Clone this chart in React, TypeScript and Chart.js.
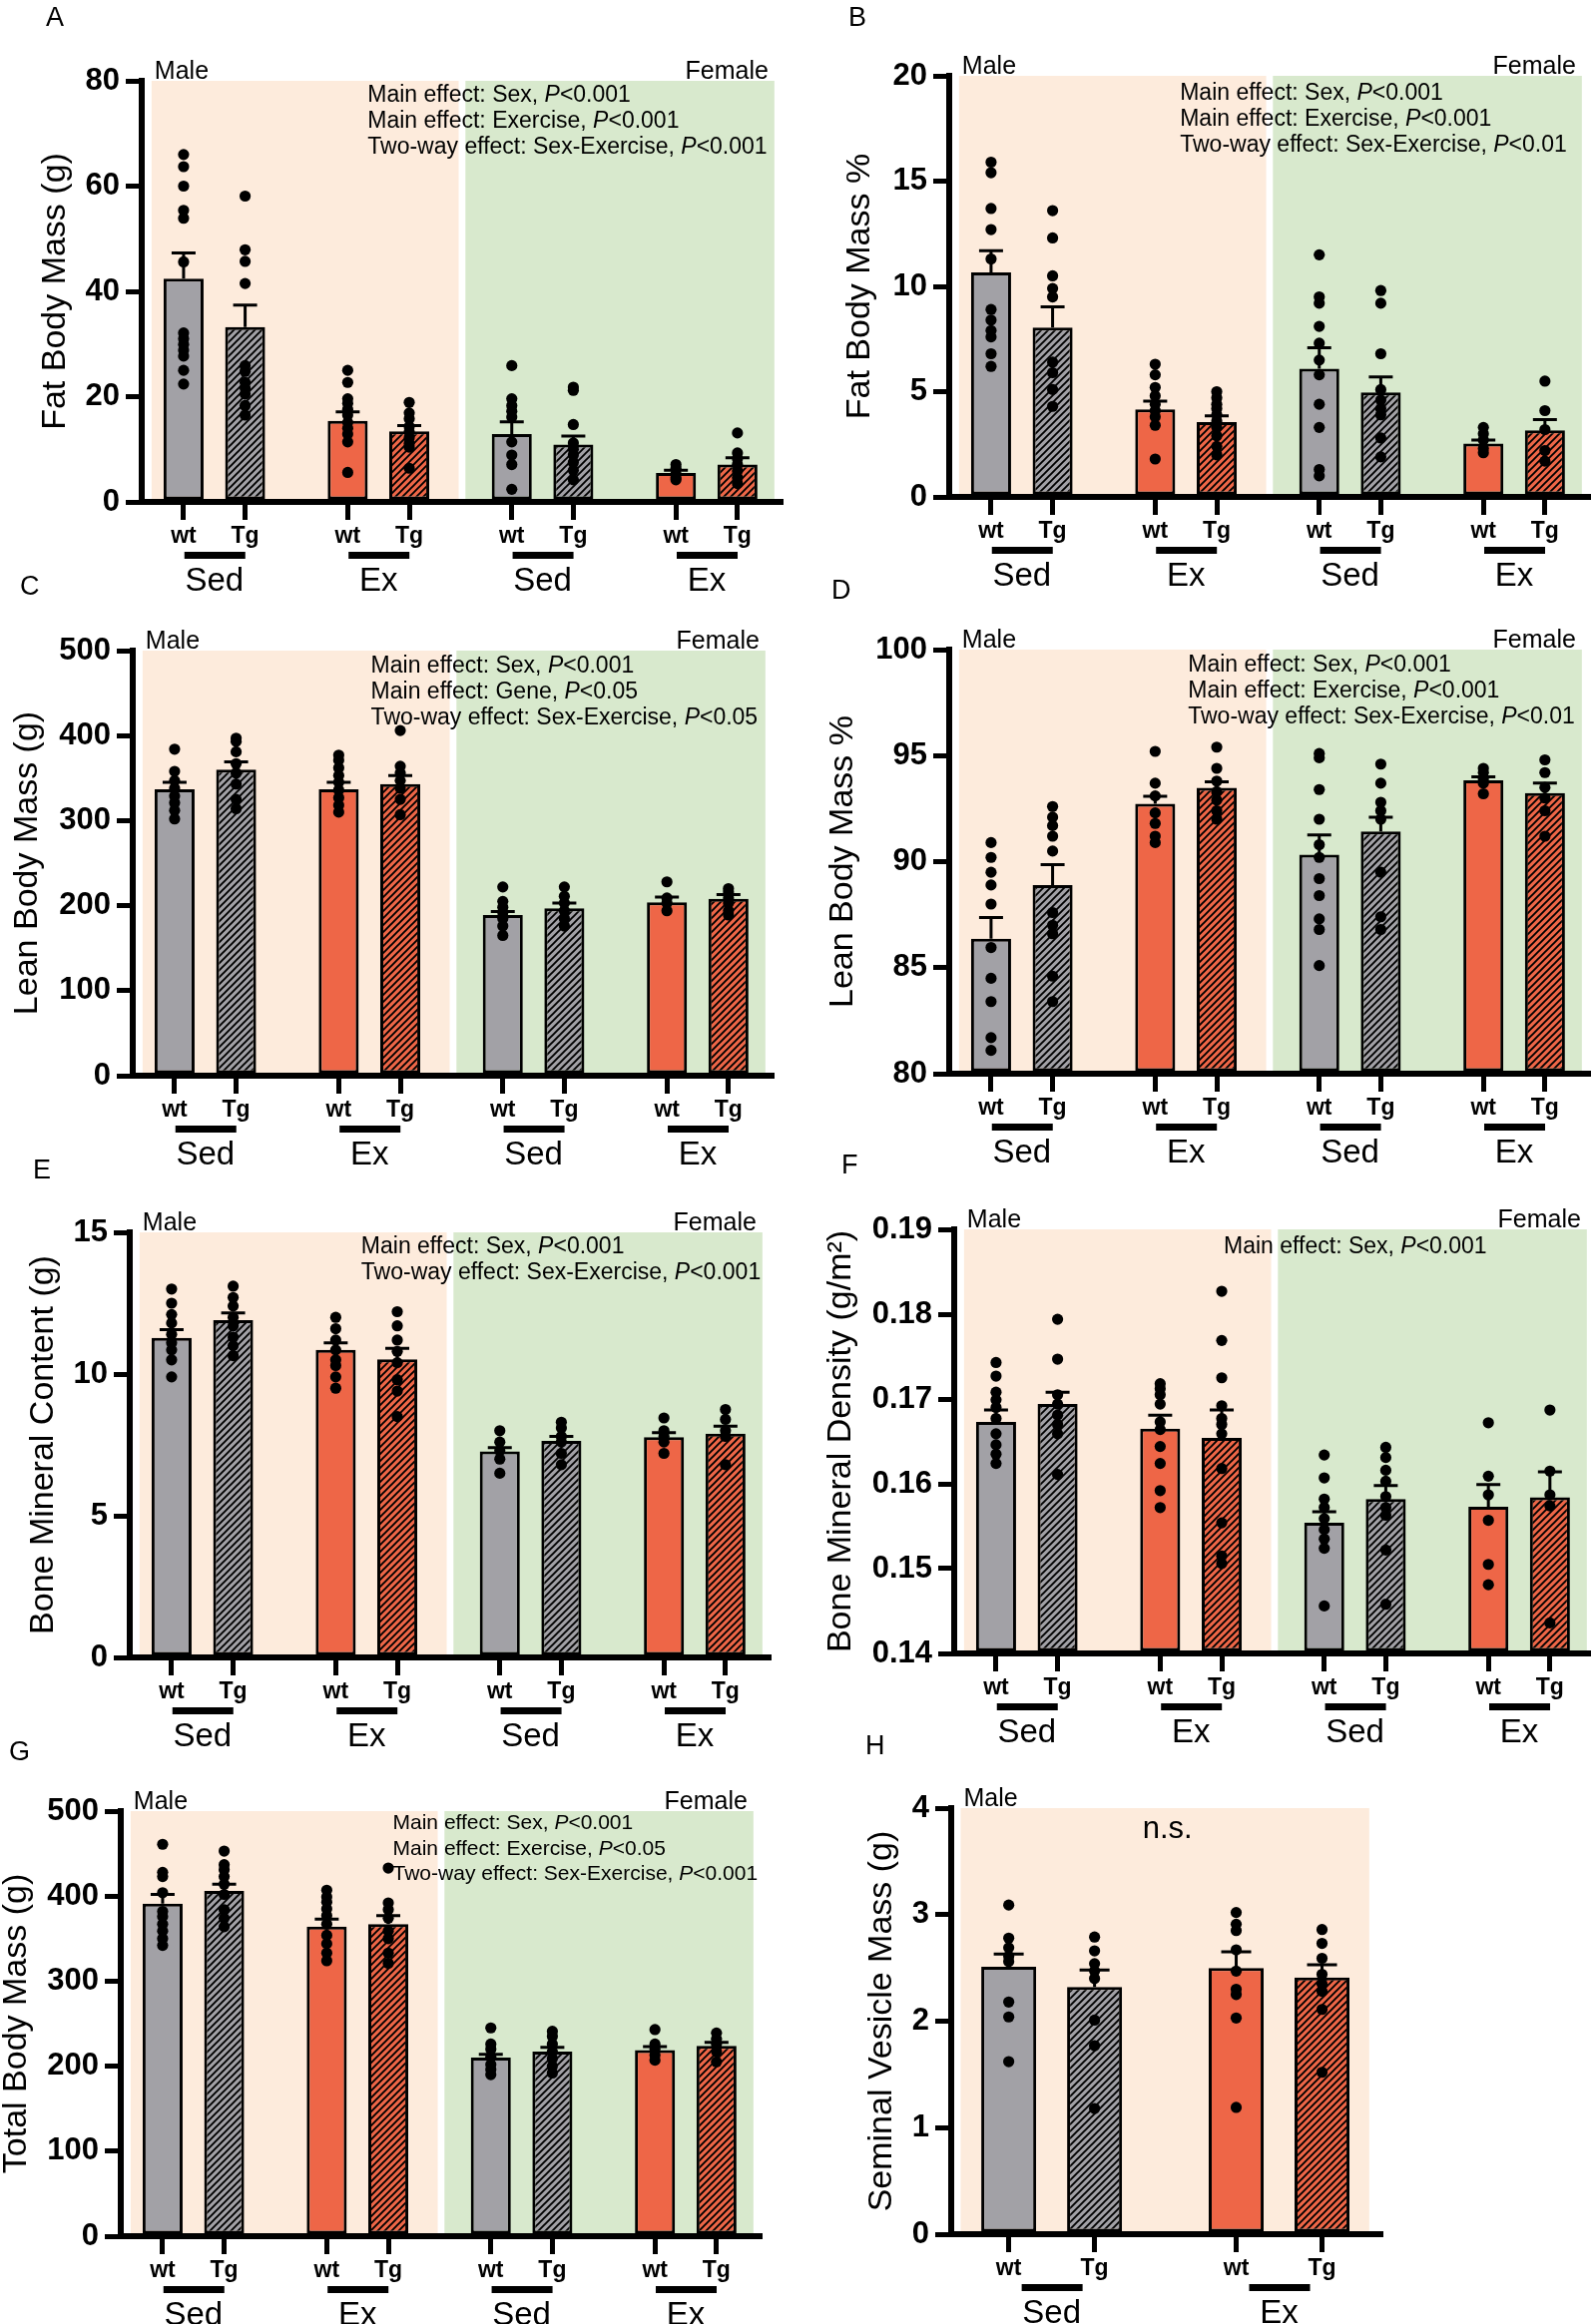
import React, { useEffect, useRef } from 'react';
import { Chart, registerables } from 'chart.js';

Chart.register(...registerables);

const FONT = '"Liberation Sans", Arial, Helvetica, sans-serif';
Chart.defaults.font.family = FONT;

// ---------- categories ----------
const GENES = ['wt', 'Tg'];
const GROUPS = ['Sed', 'Ex', 'Sed', 'Ex'];
const GROUPS_H = ['Sed', 'Ex'];
const SEXES = ['Male', 'Female'];

// ---------- A: Fat Body Mass (g) ----------
const A_MEAN = [42.4, 33.2, 15.4, 13.4, 12.9, 10.9, 5.5, 7.1];
const A_SEM = [4.9, 4.2, 1.7, 1.1, 2.3, 1.6, 0.5, 1.3];
const A_PTS = [
  [66, 63.7, 60, 55.4, 53.9, 45.6, 32.1, 31, 29.9, 28.8, 27.7, 25, 22.4],
  [58.1, 47.9, 45.7, 41.5, 25.9, 24.8, 22.7, 21.6, 20.5, 18.3, 16.5],
  [25, 22.7, 19.6, 18.7, 17.6, 16.5, 15.1, 14, 12.9, 11.4, 5.6],
  [18.9, 16.9, 15.8, 14.3, 13.3, 12.2, 11.1, 10.4, 6.4],
  [25.9, 19.6, 18.3, 17.2, 16.1, 11.4, 8.9, 7.1, 2.4],
  [21.8, 21.2, 14.7, 11.2, 10, 8.9, 7.5, 6, 4.2],
  [7.1, 6.4, 5.3, 4.6, 4.2],
  [13.1, 9.3, 8.2, 7.1, 5.9, 4.6, 3.5],
];
const A_NOTES = ['Main effect: Sex, P<0.001', 'Main effect: Exercise, P<0.001', 'Two-way effect: Sex-Exercise, P<0.001'];

// ---------- B: Fat Body Mass % ----------
const B_MEAN = [10.66, 8.04, 4.16, 3.56, 6.09, 4.97, 2.53, 3.16];
const B_SEM = [1.04, 0.99, 0.39, 0.29, 0.99, 0.73, 0.17, 0.51];
const B_PTS = [
  [15.9, 15.4, 13.7, 12.7, 11.3, 8.9, 8.4, 7.9, 7.6, 6.8, 6.2],
  [13.6, 12.3, 10.5, 9.9, 9.5, 6.4, 5.9, 5.1, 4.3],
  [6.3, 5.8, 5.2, 4.8, 4.4, 4.1, 3.8, 3.4, 1.8],
  [5.0, 4.7, 4.4, 4.2, 3.9, 3.6, 3.3, 2.9, 2.4, 2.0],
  [11.5, 9.5, 9.2, 8.1, 7.3, 6.5, 5.8, 4.4, 3.3, 1.3, 1.0],
  [9.8, 9.2, 6.8, 5.1, 4.6, 4.2, 3.9, 2.8, 1.9],
  [3.3, 3.0, 2.7, 2.3, 2.1],
  [5.5, 4.1, 3.2, 2.2, 1.7],
];
const B_NOTES = ['Main effect: Sex, P<0.001', 'Main effect: Exercise, P<0.001', 'Two-way effect: Sex-Exercise, P<0.01'];

// ---------- C: Lean Body Mass (g) ----------
const C_MEAN = [337, 360, 337, 343, 189, 197, 204, 208];
const C_SEM = [8, 9, 8, 10, 4, 6, 6, 5];
const C_PTS = [
  [384, 358, 347, 338, 329, 321, 312, 302],
  [397, 393, 381, 367, 356, 343, 325, 314],
  [377, 371, 362, 353, 345, 336, 327, 318, 310],
  [406, 364, 356, 347, 338, 325, 307],
  [222, 205, 198, 192, 185, 176, 165],
  [222, 211, 203, 194, 185, 176],
  [228, 209, 203, 194],
  [220, 216, 209, 203, 194, 189],
];
const C_NOTES = ['Main effect: Sex, P<0.001', 'Main effect: Gene, P<0.05', 'Two-way effect: Sex-Exercise, P<0.05'];

// ---------- D: Lean Body Mass % ----------
const D_MEAN = [86.36, 88.9, 92.73, 93.48, 90.33, 91.42, 93.84, 93.24];
const D_SEM = [1.0, 0.96, 0.35, 0.29, 0.93, 0.68, 0.16, 0.47];
const D_PTS = [
  [90.9, 90.2, 89.5, 88.9, 88.0, 85.95, 84.5, 83.4, 81.7, 81.1],
  [92.6, 92.1, 91.7, 91.2, 90.5, 87.6, 87.0, 86.6, 84.6, 83.4],
  [95.2, 93.7, 93.1, 92.3, 91.8, 91.2, 90.9],
  [95.4, 94.4, 93.8, 93.3, 92.9, 92.4, 92.0],
  [95.1, 94.9, 93.4, 92.0, 90.8, 90.2, 89.2, 88.4, 87.3, 86.8, 85.1],
  [94.6, 93.7, 92.8, 92.4, 92.0, 89.5, 87.4, 86.8],
  [94.4, 94.2, 93.9, 93.7, 93.2],
  [94.8, 94.2, 93.5, 93.0, 92.4, 91.2],
];
const D_NOTES = ['Main effect: Sex, P<0.001', 'Main effect: Exercise, P<0.001', 'Two-way effect: Sex-Exercise, P<0.01'];

// ---------- E: Bone Mineral Content (g) ----------
const E_MEAN = [11.28, 11.9, 10.85, 10.52, 7.27, 7.64, 7.77, 7.9];
const E_SEM = [0.29, 0.26, 0.25, 0.39, 0.13, 0.16, 0.16, 0.26];
const E_PTS = [
  [13.0, 12.5, 12.1, 11.8, 11.4, 11.1, 10.85, 10.5, 9.9],
  [13.1, 12.7, 12.4, 12.0, 11.7, 11.3, 11.0, 10.65],
  [12.0, 11.6, 11.2, 10.85, 10.5, 10.3, 9.9, 9.5],
  [12.2, 11.7, 11.2, 10.8, 10.4, 9.8, 9.4, 8.5],
  [8.0, 7.6, 7.3, 7.0, 6.5],
  [8.3, 8.1, 7.8, 7.6, 7.2, 6.8],
  [8.45, 8.0, 7.8, 7.6, 7.2],
  [8.75, 8.4, 8.0, 7.8, 6.8],
];
const E_NOTES = ['Main effect: Sex, P<0.001', 'Two-way effect: Sex-Exercise, P<0.001'];

// ---------- F: Bone Mineral Density ----------
const F_MEAN = [0.1673, 0.1694, 0.1665, 0.1654, 0.1554, 0.1582, 0.1573, 0.1584];
const F_SEM = [0.0014, 0.0014, 0.0016, 0.0033, 0.0013, 0.0016, 0.0026, 0.003];
const F_PTS = [
  [0.1743, 0.1727, 0.1708, 0.1699, 0.169, 0.1677, 0.1659, 0.1646, 0.1635, 0.1624],
  [0.1794, 0.1747, 0.1705, 0.1694, 0.1681, 0.167, 0.1659, 0.1611],
  [0.1718, 0.1712, 0.1705, 0.1694, 0.1673, 0.1664, 0.1644, 0.1624, 0.1592, 0.1572],
  [0.1827, 0.1769, 0.1725, 0.1692, 0.1677, 0.167, 0.1659, 0.1618, 0.1554, 0.1515, 0.1506],
  [0.1634, 0.1607, 0.1582, 0.1572, 0.1559, 0.1546, 0.1535, 0.1524, 0.1456],
  [0.1643, 0.1631, 0.1616, 0.1603, 0.1585, 0.1572, 0.1563, 0.1522, 0.1458],
  [0.1672, 0.1609, 0.1587, 0.1557, 0.1505, 0.1481],
  [0.1687, 0.1615, 0.1587, 0.1574, 0.1436],
];
const F_NOTES = ['Main effect: Sex, P<0.001'];

// ---------- G: Total Body Mass (g) ----------
const G_MEAN = [391, 406, 364, 367, 210, 217, 219, 224];
const G_SEM = [11, 8, 9, 10, 4, 5, 4, 4];
const G_PTS = [
  [461, 428, 423, 404, 382, 376, 367, 359, 350, 342],
  [453, 437, 431, 423, 414, 402, 384, 374, 364],
  [407, 399, 393, 385, 377, 367, 354, 344, 333, 324],
  [433, 392, 384, 374, 359, 350, 333, 321],
  [245, 226, 220, 211, 202, 196, 190],
  [241, 235, 226, 217, 209, 200, 192],
  [243, 226, 220, 213, 207],
  [239, 232, 226, 217, 205],
];
const G_NOTES = ['Main effect: Sex, P<0.001', 'Main effect: Exercise, P<0.05', 'Two-way effect: Sex-Exercise, P<0.001'];

// ---------- H: Seminal Vesicle Mass (g) ----------
const H_MEAN = [2.51, 2.32, 2.5, 2.41];
const H_SEM = [0.12, 0.16, 0.15, 0.12];
const H_PTS = [
  [3.09, 2.78, 2.69, 2.61, 2.56, 2.18, 2.04, 1.62],
  [2.79, 2.66, 2.54, 2.47, 2.4, 2.01, 1.77, 1.18],
  [3.02, 2.91, 2.85, 2.67, 2.47, 2.3, 2.25, 2.03, 1.19],
  [2.86, 2.73, 2.59, 2.44, 2.35, 2.28, 2.11, 1.52],
];
const H_NOTES = ['n.s.'];

// ---------- styles / layout ----------
const GRAY = '#A2A1A6';
const ORANGE = '#EE6647';
const PEACH = '#FDEBDC';
const GREEN = '#D8E9CD';

const SLOT8 = [0, 1, 2.667, 3.667, 5.333, 6.333, 8, 9];
const SLOT4 = [0, 1, 2.65, 3.65];
const BANDS8 = [[-0.52, 4.47, PEACH], [4.58, 9.6, GREEN]];
const BANDS4 = [[-0.56, 4.2, PEACH]];

const base8 = { slots: SLOT8, groups: GROUPS, bands: BANDS8, xMin: -0.68, xMax: 9.7, span: 640, barPct: 0.65, capHalf: 12, noteSize: 23, noteLH: 26 };

const PANELS: any[] = [
  { ...base8, id: 'A', x0: 0, L: 142, T: 81, B: 503, titleX: 56, title: 'Fat Body Mass (g)', yMin: 0, yMax: 80, step: 20, dec: 0, mean: A_MEAN, sem: A_SEM, pts: A_PTS, notes: A_NOTES, noteX: 2.99, noteDy: 21, letterX: 46, letterY: 26 },
  { ...base8, id: 'B', x0: 800, L: 951, T: 76, B: 498, titleX: 862, title: 'Fat Body Mass %', yMin: 0, yMax: 20, step: 5, dec: 0, mean: B_MEAN, sem: B_SEM, pts: B_PTS, notes: B_NOTES, noteX: 3.07, noteDy: 24, letterX: 850, letterY: 26 },
  { ...base8, id: 'C', x0: 0, L: 133, T: 652, B: 1078, titleX: 28, title: 'Lean Body Mass (g)', yMin: 0, yMax: 500, step: 100, dec: 0, mean: C_MEAN, sem: C_SEM, pts: C_PTS, notes: C_NOTES, noteX: 3.19, noteDy: 22, letterX: 20, letterY: 596 },
  { ...base8, id: 'D', x0: 800, L: 951, T: 651, B: 1076, titleX: 845, title: 'Lean Body Mass %', yMin: 80, yMax: 100, step: 5, dec: 0, mean: D_MEAN, sem: D_SEM, pts: D_PTS, notes: D_NOTES, noteX: 3.2, noteDy: 21.5, letterX: 833, letterY: 600 },
  { ...base8, id: 'E', x0: 0, L: 130, T: 1235, B: 1661, titleX: 44, title: 'Bone Mineral Content (g)', yMin: 0, yMax: 15, step: 5, dec: 0, mean: E_MEAN, sem: E_SEM, pts: E_PTS, notes: E_NOTES, noteX: 3.08, noteDy: 21, letterX: 33, letterY: 1181 },
  { ...base8, id: 'F', x0: 800, L: 956, T: 1232, B: 1657, titleX: 843, title: 'Bone Mineral Density (g/m\u00B2)', yMin: 0.14, yMax: 0.19, step: 0.01, dec: 2, mean: F_MEAN, sem: F_SEM, pts: F_PTS, notes: F_NOTES, noteX: 3.7, noteDy: 23.5, letterX: 843, letterY: 1176 },
  { ...base8, id: 'G', x0: 0, L: 121, T: 1815, B: 2241, titleX: 17, title: 'Total Body Mass (g)', yMin: 0, yMax: 500, step: 100, dec: 0, mean: G_MEAN, sem: G_SEM, pts: G_PTS, notes: G_NOTES, noteX: 3.74, noteDy: 18, noteSize: 21, noteLH: 25.5, letterX: 9, letterY: 1764 },
  { id: 'H', slots: SLOT4, groups: GROUPS_H, bands: BANDS4, xMin: -0.67, xMax: 4.33, span: 430, barPct: 0.64, capHalf: 15, x0: 800, L: 953, T: 1812, B: 2239, titleX: 884, title: 'Seminal Vesicle Mass (g)', yMin: 0, yMax: 4, step: 1, dec: 0, mean: H_MEAN, sem: H_SEM, pts: H_PTS, notes: H_NOTES, center: true, noteX: 1.85, noteDy: 30, noteSize: 31, noteLH: 30, letterX: 867, letterY: 1758 },
];

const PAD_TOP = 90;
const X_AXIS_H = 100;
const PAD_BOTTOM = 10;
const CANVAS_W = 800;

function hatch(fill: string) {
  const s = 7;
  const c = document.createElement('canvas');
  c.width = s;
  c.height = s;
  const g = c.getContext('2d') as CanvasRenderingContext2D;
  g.fillStyle = fill;
  g.fillRect(0, 0, s, s);
  g.strokeStyle = '#000';
  g.lineWidth = 1.9;
  g.beginPath();
  g.moveTo(0, s);
  g.lineTo(s, 0);
  g.moveTo(-s / 2, s / 2);
  g.lineTo(s / 2, -s / 2);
  g.moveTo(s / 2, s + s / 2);
  g.lineTo(s + s / 2, s / 2);
  g.stroke();
  return g.createPattern(c, 'repeat');
}

function drawNote(ctx: CanvasRenderingContext2D, text: string, x: number, y: number, size: number) {
  ctx.textAlign = 'left';
  ctx.textBaseline = 'alphabetic';
  const idx = text.lastIndexOf('P<');
  const normal = `${size}px ${FONT}`;
  if (idx < 0) {
    ctx.font = normal;
    ctx.fillText(text, x, y);
    return;
  }
  const a = text.slice(0, idx);
  const b = text.slice(idx + 1);
  ctx.font = normal;
  ctx.fillText(a, x, y);
  let cx = x + ctx.measureText(a).width;
  ctx.font = `italic ${size}px ${FONT}`;
  ctx.fillText('P', cx, y);
  cx += ctx.measureText('P').width;
  ctx.font = normal;
  ctx.fillText(b, cx, y);
}

function decor(p: any) {
  const canvasTop = p.T - PAD_TOP;
  return {
    id: 'decor' + p.id,
    beforeDraw(chart: any) {
      const { ctx, chartArea: ca, scales } = chart;
      const xs = scales.x;
      ctx.save();
      p.bands.forEach((b: any) => {
        const x1 = xs.getPixelForValue(b[0]);
        const x2 = xs.getPixelForValue(b[1]);
        ctx.fillStyle = b[2];
        ctx.fillRect(x1, ca.top, x2 - x1, ca.bottom - ca.top);
      });
      ctx.restore();
    },
    afterDatasetsDraw(chart: any) {
      const { ctx, scales } = chart;
      const xs = scales.x;
      const ys = scales.y;
      ctx.save();
      ctx.strokeStyle = '#000';
      ctx.lineWidth = 3;
      p.mean.forEach((m: number, i: number) => {
        const px = xs.getPixelForValue(p.slots[i]);
        const y0 = ys.getPixelForValue(m);
        const y1 = ys.getPixelForValue(m + p.sem[i]);
        ctx.beginPath();
        ctx.moveTo(px, y0);
        ctx.lineTo(px, y1);
        ctx.moveTo(px - p.capHalf, y1);
        ctx.lineTo(px + p.capHalf, y1);
        ctx.stroke();
      });
      ctx.restore();
    },
    afterDraw(chart: any) {
      const { ctx, chartArea: ca, scales } = chart;
      const xs = scales.x;
      ctx.save();
      ctx.fillStyle = '#000';
      // panel letter
      ctx.font = `27px ${FONT}`;
      ctx.textAlign = 'left';
      ctx.textBaseline = 'alphabetic';
      ctx.fillText(p.id, p.letterX - p.x0, p.letterY - canvasTop);
      // y axis title
      ctx.save();
      ctx.translate(p.titleX - p.x0, (ca.top + ca.bottom) / 2);
      ctx.rotate(-Math.PI / 2);
      ctx.font = `34px ${FONT}`;
      ctx.textAlign = 'center';
      ctx.textBaseline = 'middle';
      ctx.fillText(p.title, 0, 0);
      ctx.restore();
      // sex labels
      ctx.font = `25px ${FONT}`;
      ctx.textBaseline = 'alphabetic';
      p.bands.forEach((b: any, k: number) => {
        if (k === 0) {
          ctx.textAlign = 'left';
          ctx.fillText(SEXES[0], xs.getPixelForValue(b[0]) + 3, ca.top - 2);
        } else {
          ctx.textAlign = 'right';
          ctx.fillText(SEXES[1], xs.getPixelForValue(b[1]) - 6, ca.top - 2);
        }
      });
      // statistics notes
      const nx = xs.getPixelForValue(p.noteX);
      p.notes.forEach((t: string, k: number) => {
        const ny = ca.top + p.noteDy + k * p.noteLH;
        if (p.center) {
          ctx.font = `${p.noteSize}px ${FONT}`;
          ctx.textAlign = 'center';
          ctx.textBaseline = 'alphabetic';
          ctx.fillText(t, nx, ny);
        } else {
          drawNote(ctx, t, nx, ny, p.noteSize);
        }
      });
      // group bars and labels
      ctx.font = `33px ${FONT}`;
      ctx.textAlign = 'center';
      ctx.textBaseline = 'alphabetic';
      p.groups.forEach((gName: string, g: number) => {
        const a = xs.getPixelForValue(p.slots[2 * g]);
        const b = xs.getPixelForValue(p.slots[2 * g + 1]);
        const mid = (a + b) / 2;
        ctx.fillRect(mid - 30, ca.bottom + 50, 61, 7);
        ctx.fillText(gName, mid, ca.bottom + 89);
      });
      ctx.restore();
    },
  };
}

function buildConfig(p: any) {
  const fills = p.mean.map((_: number, i: number) => {
    const col = p.groups[Math.floor(i / 2)] === 'Sed' ? GRAY : ORANGE;
    return GENES[i % 2] === 'Tg' ? hatch(col) : col;
  });
  const barData = p.mean.map((m: number, i: number) => ({ x: p.slots[i], y: m }));
  const dotData = p.pts.flatMap((arr: number[], i: number) => arr.map((v) => ({ x: p.slots[i], y: v })));
  const R = p.L + p.span;
  return {
    type: 'bar',
    data: {
      datasets: [
        { type: 'scatter', data: dotData, pointRadius: 5.6, pointHoverRadius: 5.6, backgroundColor: '#000', borderColor: '#000', borderWidth: 0, order: 0, clip: false },
        { type: 'bar', data: barData, backgroundColor: fills, borderColor: '#000', borderWidth: 3, borderSkipped: false, base: p.yMin, barPercentage: p.barPct, categoryPercentage: 1, order: 1 },
      ],
    },
    options: {
      responsive: false,
      animation: false,
      devicePixelRatio: 1,
      layout: { padding: { top: PAD_TOP, bottom: PAD_BOTTOM, left: 0, right: CANVAS_W - (R - p.x0) }, autoPadding: false },
      plugins: { legend: { display: false }, tooltip: { enabled: false } },
      events: [],
      scales: {
        x: {
          type: 'linear',
          position: 'bottom',
          min: p.xMin,
          max: p.xMax,
          offset: false,
          bounds: 'data',
          afterBuildTicks: (s: any) => {
            s.ticks = p.slots.map((v: number) => ({ value: v }));
          },
          afterFit: (s: any) => {
            s.height = X_AXIS_H;
          },
          ticks: {
            autoSkip: false,
            maxRotation: 0,
            minRotation: 0,
            padding: 3,
            color: '#000',
            font: { family: FONT, size: 23, weight: 'bold' },
            callback: (_v: any, i: number) => GENES[i % 2],
          },
          grid: { display: true, drawOnChartArea: false, drawTicks: true, tickLength: 18, tickWidth: 5, tickColor: '#000', color: '#000', lineWidth: 5, offset: false },
          border: { display: true, width: 6, color: '#000' },
        },
        y: {
          type: 'linear',
          position: 'left',
          min: p.yMin,
          max: p.yMax,
          afterFit: (s: any) => {
            s.width = p.L - p.x0;
          },
          ticks: {
            stepSize: p.step,
            padding: 6,
            color: '#000',
            font: { family: FONT, size: 31, weight: 'bold' },
            callback: (v: number) => (p.dec ? Number(v).toFixed(p.dec) : String(Math.round(v))),
          },
          grid: { display: true, drawOnChartArea: false, drawTicks: true, tickLength: 16, tickWidth: 5, tickColor: '#000', color: '#000', lineWidth: 5 },
          border: { display: true, width: 6, color: '#000' },
          title: { display: false },
        },
      },
    },
    plugins: [decor(p)],
  };
}

function Panel({ p }: { p: any }) {
  const ref = useRef<HTMLCanvasElement>(null);
  const top = p.T - PAD_TOP;
  const h = p.B - p.T + PAD_TOP + X_AXIS_H + PAD_BOTTOM;
  useEffect(() => {
    const chart = new Chart(ref.current as HTMLCanvasElement, buildConfig(p) as any);
    return () => chart.destroy();
  }, []);
  return (
    <canvas
      ref={ref}
      width={CANVAS_W}
      height={h}
      style={{ position: 'absolute', left: p.x0, top, width: CANVAS_W, height: h, display: 'block' }}
    />
  );
}

export default function App() {
  return (
    <div style={{ position: 'absolute', left: 0, top: 0, width: 1594, height: 2329, overflow: 'hidden', background: '#fff' }}>
      {PANELS.map((p) => (
        <Panel key={p.id} p={p} />
      ))}
    </div>
  );
}
